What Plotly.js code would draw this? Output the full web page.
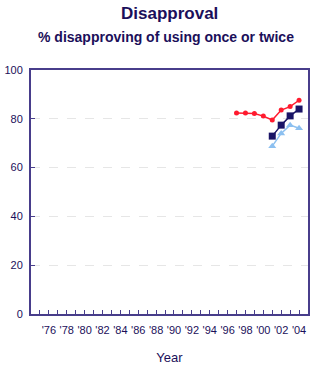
<!DOCTYPE html>
<html><head><meta charset="utf-8">
<script src="https://cdn.plot.ly/plotly-3.0.1.min.js"></script>
<style>html,body{margin:0;padding:0;background:#fff}#chart{width:327px;height:366px}</style>
</head><body><div id="chart"></div>
<script>
const yearsA = [1997,1998,1999,2000,2001,2002,2003,2004];
const seriesA = [82.4,82.4,82.2,81.1,79.5,83.6,85.0,87.6];
const yearsB = [2001,2002,2003,2004];
const seriesB = [72.9,77.4,81.2,84.0];
const yearsC = [2001,2002,2003,2004];
const seriesC = [68.8,74.0,77.4,76.1];
const tickYears = [];
const tickLabels = [];
for (let y = 1975; y <= 2004; y++) { tickYears.push(y); tickLabels.push(y % 2 === 0 ? "'" + String(y).slice(2) : ""); }
const titleText = 'Disapproval';
const subtitleText = '% disapproving of using once or twice';

const axisColor = '#483D8B';
const textColor = '#1b0f5a';
const traces = [
  {x: yearsA, y: seriesA, mode: 'lines+markers', line: {color: '#ff1a2e', width: 1.5}, marker: {symbol: 'circle', size: 5, color: '#ff1a2e'}},
  {x: yearsB, y: seriesB, mode: 'lines+markers', line: {color: '#1a1466', width: 1.5}, marker: {symbol: 'square', size: 7, color: '#1a1466'}},
  {x: yearsC, y: seriesC, mode: 'lines+markers', line: {color: '#8cc0f0', width: 1.5}, marker: {symbol: 'triangle-up', size: 7, color: '#8cc0f0'}}
];
const layout = {
  width: 327, height: 366,
  margin: {l: 31, r: 19, t: 70, b: 52},
  paper_bgcolor: '#fff', plot_bgcolor: '#fff',
  showlegend: false,
  font: {family: 'Liberation Sans, Arial, sans-serif', color: textColor, size: 11},
  annotations: [
    {text: '<b>' + titleText + '</b>', xref: 'paper', yref: 'paper', x: 0.5, y: 1 + 57/244, xanchor: 'center', yanchor: 'middle', showarrow: false, font: {size: 17, color: textColor}},
    {text: '<b>' + subtitleText + '</b>', xref: 'paper', yref: 'paper', x: 0.487, y: 1 + 33/244, xanchor: 'center', yanchor: 'middle', showarrow: false, font: {size: 14, color: textColor}}
  ],
  xaxis: {range: [1974, 2005], tickvals: tickYears, ticktext: tickLabels, ticks: 'inside', ticklen: 4, tickcolor: axisColor,
          showline: true, linecolor: axisColor, linewidth: 2, mirror: true, showgrid: false, zeroline: false,
          ticklabelstandoff: 5,
          tickfont: {size: 11, color: textColor},
          title: {text: 'Year', font: {size: 13, color: textColor}, standoff: 18}},
  yaxis: {range: [0, 100], tickvals: [0,20,40,60,80,100], ticks: 'inside', ticklen: 4, tickcolor: axisColor,
          showline: true, linecolor: axisColor, linewidth: 2, mirror: true, showgrid: true, gridcolor: '#e6e6e6', griddash: 'dash', gridwidth: 1,
          ticklabelstandoff: 4,
          zeroline: false, tickfont: {size: 11, color: textColor}}
};
Plotly.newPlot('chart', traces, layout, {staticPlot: true, displayModeBar: false});
</script>
</body></html>
